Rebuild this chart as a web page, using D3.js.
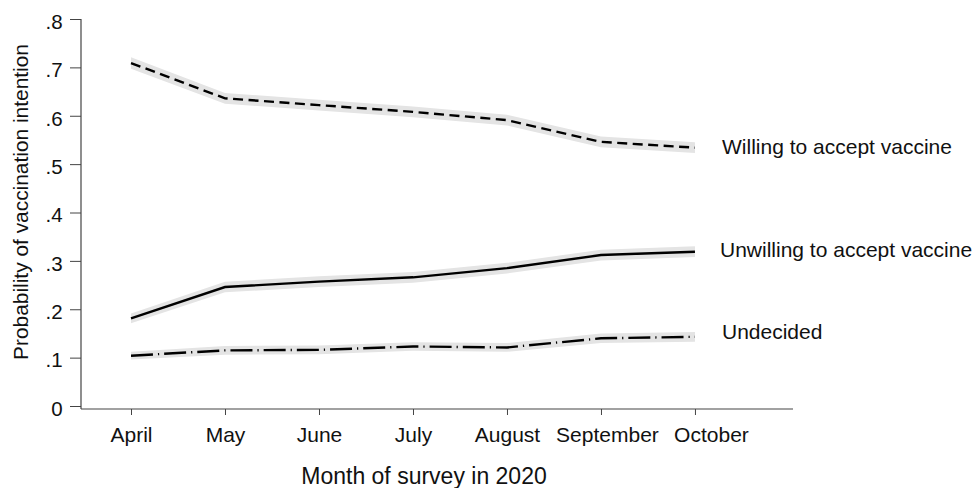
<!DOCTYPE html>
<html>
<head>
<meta charset="utf-8">
<script src="https://cdn.jsdelivr.net/npm/d3@7"></script>
<style>
  body { margin: 0; background: #fff; }
  svg { display: block; font-family: "Liberation Sans", Arial, sans-serif; }
</style>
</head>
<body>
<div id="chart_div"></div>
<script>
const months = ["April", "May", "June", "July", "August", "September", "October"];
const yTicks = [0, 0.1, 0.2, 0.3, 0.4, 0.5, 0.6, 0.7, 0.8];

const willing = [0.709, 0.636, 0.622, 0.608, 0.591, 0.546, 0.534];
const willingCi = [0.012, 0.011, 0.011, 0.011, 0.011, 0.011, 0.011];
const unwilling = [0.181, 0.246, 0.257, 0.266, 0.285, 0.312, 0.319];
const unwillingCi = [0.010, 0.011, 0.011, 0.011, 0.011, 0.011, 0.011];
const undecided = [0.104, 0.115, 0.116, 0.123, 0.121, 0.140, 0.143];
const undecidedCi = [0.008, 0.009, 0.009, 0.009, 0.009, 0.010, 0.010];

const seriesNames = ["Willing to accept vaccine", "Unwilling to accept vaccine", "Undecided"];

const width = 976;
const height = 488;
const axisY = 409;

const svg = d3.select("#chart_div")
    .append("svg")
    .attr("width", width)
    .attr("height", height);

const x = d3.scaleLinear()
    .domain([-0.532, 7.043])
    .range([81, 793]);

const y = d3.scaleLinear()
    .domain([0, 0.8])
    .range([406, 19]);

const series = [
    { name: seriesNames[0], vals: willing, ci: willingCi, dash: "10,5.5" },
    { name: seriesNames[1], vals: unwilling, ci: unwillingCi, dash: null },
    { name: seriesNames[2], vals: undecided, ci: undecidedCi, dash: "22,5,1.2,5" }
];

const area = d3.area()
    .x((d, i) => x(i))
    .y0(d => y(d.v - d.c))
    .y1(d => y(d.v + d.c));

const line = d3.line()
    .x((d, i) => x(i))
    .y(d => y(d));

// confidence bands first
svg.append("g")
    .selectAll("path")
    .data(series)
    .enter()
    .append("path")
    .attr("d", s => area(s.vals.map((v, i) => ({ v: v, c: s.ci[i] }))))
    .attr("fill", "#e4e4e4");

svg.append("g")
    .selectAll("path")
    .data(series)
    .enter()
    .append("path")
    .attr("d", s => line(s.vals))
    .attr("fill", "none")
    .attr("stroke", "#000")
    .attr("stroke-width", 2.4)
    .attr("stroke-dasharray", s => s.dash);

// axes
// the last two month labels sit a bit right of their ticks, as in the original
const labelShift = [0, 0, 0, 0, 0, 6, 16];
const xAxis = svg.append("g")
    .attr("transform", `translate(0, ${axisY})`)
    .call(d3.axisBottom(x)
        .tickValues(d3.range(months.length))
        .tickFormat(i => months[i])
        .tickSize(6)
        .tickSizeOuter(0));
xAxis.select(".domain").remove();
xAxis.selectAll("line").attr("stroke", "#444");
xAxis.selectAll("text")
    .attr("x", i => labelShift[i])
    .attr("y", 32.7)
    .attr("dy", 0)
    .attr("fill", "#111")
    .style("font-size", "21px");

const yAxis = svg.append("g")
    .attr("transform", "translate(81, 0)")
    .call(d3.axisLeft(y)
        .tickValues(yTicks)
        .tickFormat(d => d === 0 ? "0" : d3.format(".1f")(d).replace(/^0/, ""))
        .tickSize(11)
        .tickSizeOuter(0));
yAxis.select(".domain").remove();
yAxis.selectAll("line").attr("stroke", "#444");
yAxis.selectAll("text")
    .attr("x", -18.3)
    .attr("dy", 9.3)
    .attr("fill", "#111")
    .style("font-size", "20.5px");

svg.append("line")
    .attr("x1", 81).attr("x2", 81)
    .attr("y1", y(0.8)).attr("y2", axisY)
    .attr("stroke", "#444")
    .attr("stroke-width", 1.2);

svg.append("line")
    .attr("x1", 81).attr("x2", 793)
    .attr("y1", axisY).attr("y2", axisY)
    .attr("stroke", "#444")
    .attr("stroke-width", 1.2);

// axis titles
svg.append("text")
    .attr("transform", "translate(28.4, 202) rotate(-90)")
    .attr("text-anchor", "middle")
    .attr("fill", "#111")
    .style("font-size", "20.9px")
    .text("Probability of vaccination intention");

svg.append("text")
    .attr("x", 424)
    .attr("y", 484)
    .attr("text-anchor", "middle")
    .attr("fill", "#111")
    .style("font-size", "23px")
    .text("Month of survey in 2020");

// series labels
const labelPos = [[722, 154], [720, 256.7], [722, 339]];
svg.append("g")
    .selectAll("text")
    .data(series)
    .enter()
    .append("text")
    .attr("x", (s, i) => labelPos[i][0])
    .attr("y", (s, i) => labelPos[i][1])
    .attr("fill", "#111")
    .style("font-size", "21px")
    .text(s => s.name);
</script>
</body>
</html>
